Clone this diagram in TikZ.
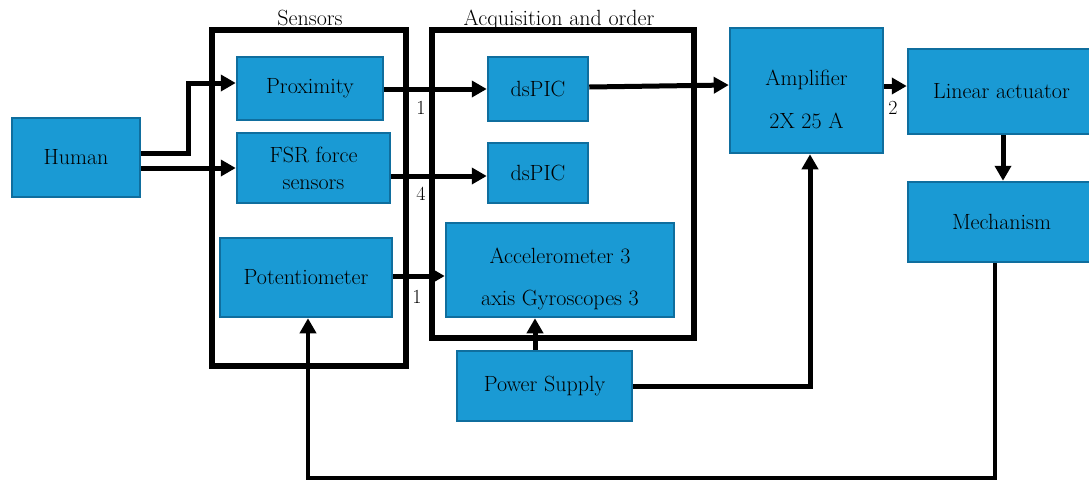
\documentclass[tikz,border=0pt]{standalone}
\usetikzlibrary{arrows.meta}
\definecolor{blkfill}{HTML}{1A9AD4}
\definecolor{blkedge}{HTML}{0F6E9E}
\begin{document}
\begin{tikzpicture}[x=1pt, y=-1pt,
        blk/.style={draw=blkedge, fill=blkfill, line width=2.5pt, inner sep=0pt,
            align=center, font=\fontsize{22}{26}\selectfont},
        twoline/.style={align=center, font=\fontsize{22}{#1}\selectfont, yshift=-9pt},
        frame/.style={draw=black, line width=6pt},
        arr/.style={draw=black, line width=5pt, -{Triangle[length=15pt, width=16pt]}},
        num/.style={font=\fontsize{20}{24}\selectfont},
        title/.style={font=\fontsize{22}{26}\selectfont, anchor=base}
    ]
    \useasboundingbox (0, 0) rectangle (1089, 483);

    % frames
    \draw[frame] (212, 30) rectangle (406, 366);
    \draw[frame] (432, 30) rectangle (694, 338);
    \node[title] (sensorsTitle) at (310, 25) {Sensors};
    \node[title] (acqTitle) at (559, 25) {Acquisition and order};

    % blocks
    \node[blk, minimum width=128, minimum height=79] (human) at (76, 157.5) {Human};
    \node[blk, minimum width=146, minimum height=63] (prox) at (310, 88.5) {Proximity};
    \node[blk, minimum width=153, minimum height=70, font=\fontsize{22}{27}\selectfont]
        (fsr) at (313.5, 168) {FSR force\\sensors};
    \node[blk, minimum width=172, minimum height=79] (pot) at (306, 277.5) {Potentiometer};
    \node[blk, minimum width=100, minimum height=64] (dspicA) at (538, 89) {dsPIC};
    \node[blk, minimum width=100, minimum height=60] (dspicB) at (538, 173) {dsPIC};
    \node[blk, minimum width=228, minimum height=94,
        label={[twoline=42]center:Accelerometer 3\\axis Gyroscopes 3}] (accel) at (560, 270) {};
    \node[blk, minimum width=175, minimum height=70] (power) at (544.5, 386) {Power Supply};
    \node[blk, minimum width=153, minimum height=125,
        label={[twoline=43]center:Amplifier\\2X 25 A}] (amp) at (806.5, 90.5) {};
    \node[blk, minimum width=187, minimum height=85] (lin) at (1001.5, 91.5) {Linear actuator};
    \node[blk, minimum width=187, minimum height=80] (mech) at (1001.5, 222) {Mechanism};

    % connectors
    \draw[arr] (human.east |- 0, 153) -- (188, 153) |- (prox.west |- 0, 83);
    \draw[arr] (human.east |- 0, 168) -- (fsr.west |- 0, 168);
    \draw[arr] (prox.east |- 0, 89) -- (dspicA.west |- 0, 89);
    \draw[arr] (fsr.east |- 0, 176) -- (dspicB.west |- 0, 176);
    \draw[arr] (dspicA.east |- 0, 87) -- (amp.west |- 0, 85);
    \draw[arr] (pot.east |- 0, 276) -- (accel.west |- 0, 276);
    \draw[arr] (amp.east |- 0, 86) -- (lin.west |- 0, 86);
    \draw[arr] (lin.south -| 1003, 0) -- (mech.north -| 1003, 0);
    \draw[arr] (power.north -| 535, 0) -- (accel.south -| 535, 0);
    \draw[arr] (power.east) -| (amp.south -| 810, 0);
    \draw[arr, line width=4.5pt] (mech.south -| 995, 0) -- (995, 478) -| (pot.south -| 308, 0);

    % channel counts
    \node[num] (nProx) at (421, 108) {1};
    \node[num] (nFsr) at (421, 194) {4};
    \node[num] (nPot) at (417, 297) {1};
    \node[num] (nAmp) at (893, 108) {2};
\end{tikzpicture}
\end{document}
